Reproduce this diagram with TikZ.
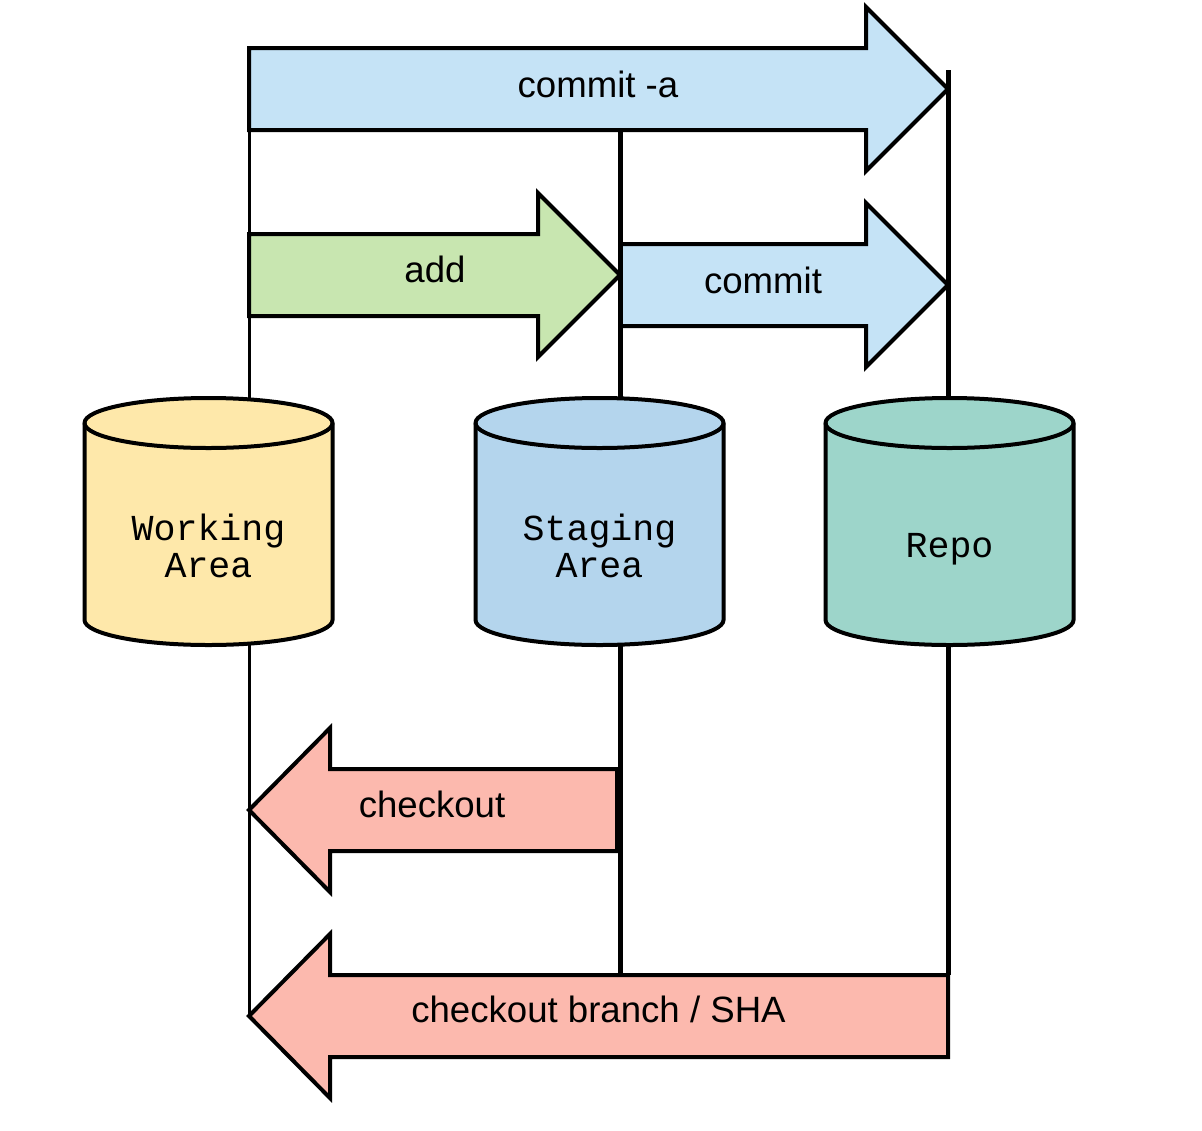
\documentclass[tikz,border=0pt]{standalone}
\usepackage{fontspec}
\setmainfont{Liberation Sans}
\setmonofont{Liberation Mono}

\definecolor{commitblue}{HTML}{C5E3F6}
\definecolor{addgreen}{HTML}{C8E6B0}
\definecolor{checkoutred}{HTML}{FCB9AE}
\definecolor{workyellow}{HTML}{FEE8AA}
\definecolor{stageblue}{HTML}{B4D5ED}
\definecolor{repoteal}{HTML}{9DD5CA}

% block arrow: name, tail x, head-base x, tip x, centre y, fill colour
\newcommand{\flowarrow}[6]{%
  \coordinate (#1-tail-top) at (#2,#5-41);
  \coordinate (#1-tail-bot) at (#2,#5+41);
  \coordinate (#1-tip) at (#4,#5);
  \filldraw[arrowbox, fill=#6] (#2,#5-41) -- (#3,#5-41) -- (#3,#5-82) -- (#4,#5)
    -- (#3,#5+82) -- (#3,#5+41) -- (#2,#5+41) -- cycle;
}

% storage cylinder: name, centre x, fill colour, label, label y
\newcommand{\storetank}[5]{%
  \begin{scope}[shift={(#2,0)}]
    \filldraw[tank, fill=#3] (-124,423) -- (-124,620)
      arc[start angle=180, end angle=0, x radius=124, y radius=25] -- (124,423)
      arc[start angle=0, end angle=-180, x radius=124, y radius=25] -- cycle;
    \draw[tank] (-124,423) arc[start angle=180, end angle=0, x radius=124, y radius=25];
  \end{scope}
  \node[tanklbl] (#1) at (#2,#5) {#4};
}

\begin{document}
\begin{tikzpicture}[x=1pt, y=-1pt,
  arrowbox/.style={draw=black, line width=4pt, line join=miter},
  rail/.style={draw=black, line width=5pt},
  thinrail/.style={draw=black, line width=3pt},
  tank/.style={draw=black, line width=4pt},
  lbl/.style={font=\fontsize{36.6}{37}\selectfont, anchor=base, inner sep=0pt},
  tanklbl/.style={font=\ttfamily\fontsize{36.6}{37}\selectfont, align=center, inner sep=0pt}]

  \useasboundingbox[fill=white] (0,0) rectangle (1202,1130);

  % arrows between the three areas
  \flowarrow{ca}{249}{866}{948}{89}{commitblue}
  \flowarrow{ad}{249}{538}{620}{275}{addgreen}
  \flowarrow{cm}{620}{866}{948}{285}{commitblue}
  \flowarrow{ck}{617}{330}{249}{810}{checkoutred}
  \flowarrow{cb}{948}{330}{249}{1016}{checkoutred}

  \node[lbl] (ca-text) at (598,97) {commit -a};
  \node[lbl] (ad-text) at (435,282) {add};
  \node[lbl] (cm-text) at (763,293) {commit};
  \node[lbl] (ck-text) at (432,817) {checkout};
  \node[lbl] (cb-text) at (598.5,1022) {checkout branch / SHA};

  % vertical rails linking the arrows
  \coordinate (stage-split) at (620,130);
  \coordinate (stage-end) at (620,975);
  \coordinate (repo-start) at (948,70);
  \draw[thinrail] (ca-tail-bot) -- (cb-tip);
  \draw[rail] (stage-split) -- (stage-end);
  \draw[rail] (repo-start) -- (cb-tail-top);

  % storage areas
  \storetank{work}{208.5}{workyellow}{Working\\Area}{546}
  \storetank{stage}{599.5}{stageblue}{Staging\\Area}{546}
  \storetank{repo}{949.5}{repoteal}{Repo}{549}
\end{tikzpicture}
\end{document}
